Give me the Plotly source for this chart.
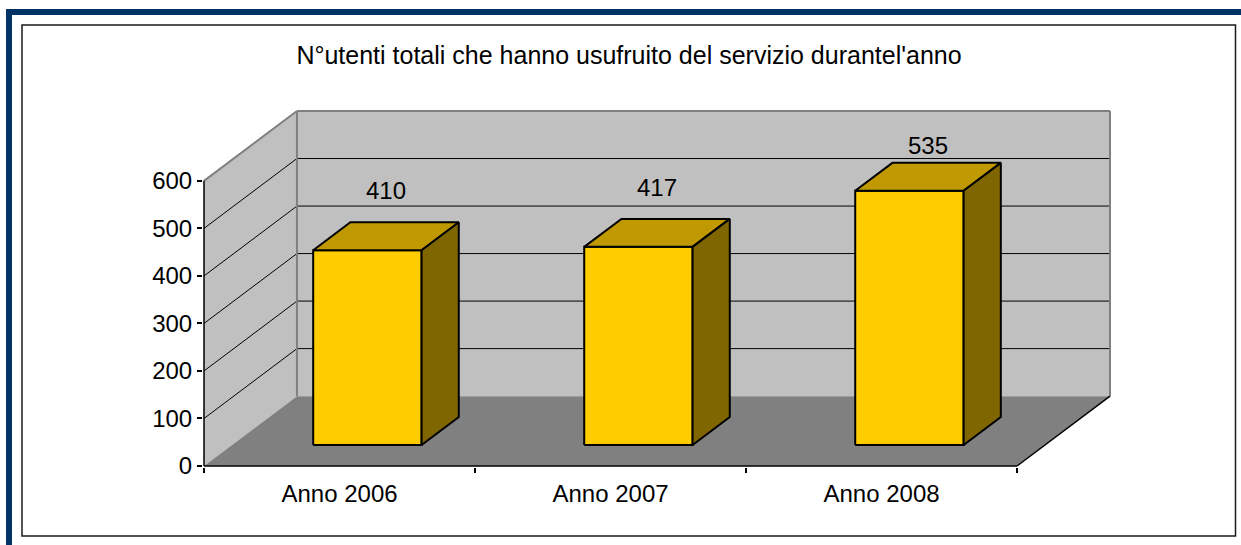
import plotly.graph_objects as go

# ---- data ----
categories = ["Anno 2006", "Anno 2007", "Anno 2008"]
values = [410, 417, 535]
y_ticks = [0, 100, 200, 300, 400, 500, 600]
title_text = "N°utenti totali che hanno usufruito del servizio durantel'anno"

# ---- geometry / style ----
W, H = 1241, 545
ML, MR, MT, MB = 203, 130, 110, 78
DX, DY = 0.343, 147.0          # depth projection (category units, value units)
VMAX = y_ticks[-1]
NCAT = len(categories)
U0, U1 = 0.30, 0.70            # bar extent inside category
D0, D1 = 0.30, 0.70            # bar extent in depth
LABEL_RISE, LABEL_CAP = 170, 675
FONT = "Liberation Sans, Arial, Helvetica, sans-serif"

WALL = "#C0C0C0"
FLOOR = "#808080"
EDGE = "#808080"
FRONT = "#FFCC00"
TOP = "#C09900"
SIDE = "#806600"

x_pad = 1.0 / 271
y_pad = 2.1


def P(u, v, d):
    return u + d * DX, v + d * DY


def poly(pts, fill, lc="rgba(0,0,0,0)", lw=0):
    xy = [P(*p) for p in pts]
    xs = [a for a, _ in xy] + [xy[0][0]]
    ys = [b for _, b in xy] + [xy[0][1]]
    return go.Scatter(x=xs, y=ys, mode="lines", fill="toself", fillcolor=fill,
                      line=dict(color=lc, width=lw), hoverinfo="skip", showlegend=False)


def seg(p1, p2, color, width):
    a, b = P(*p1), P(*p2)
    return go.Scatter(x=[a[0], b[0]], y=[a[1], b[1]], mode="lines",
                      line=dict(color=color, width=width), hoverinfo="skip", showlegend=False)


traces = []
# walls and floor
traces.append(poly([(0, 0, 0), (0, VMAX, 0), (0, VMAX, 1), (0, 0, 1)], WALL))
traces.append(poly([(0, 0, 1), (NCAT, 0, 1), (NCAT, VMAX, 1), (0, VMAX, 1)], WALL))
traces.append(poly([(0, 0, 0), (NCAT, 0, 0), (NCAT, 0, 1), (0, 0, 1)], FLOOR))

# gridlines
for v in y_ticks[1:-1]:
    traces.append(seg((0, v, 0), (0, v, 1), "#000000", 1))
    traces.append(seg((0, v, 1), (NCAT, v, 1), "#000000", 1))

# wall edges
traces.append(seg((0, VMAX, 0), (0, VMAX, 1), EDGE, 2))
traces.append(seg((0, 0, 1), (0, VMAX, 1), EDGE, 2))
traces.append(seg((0, VMAX, 1), (NCAT, VMAX, 1), EDGE, 2))
traces.append(seg((NCAT, 0, 1), (NCAT, VMAX, 1), EDGE, 2))
traces.append(seg((NCAT, 0, 0), (NCAT, 0, 1), "#000000", 1.5))
# axes lines
traces.append(seg((0, 0, 0), (0, VMAX, 0), "#000000", 1.5))
traces.append(seg((0, 0, 0), (NCAT, 0, 0), "#000000", 1.5))

# bars
for i, v in enumerate(values):
    u0, u1 = i + U0, i + U1
    traces.append(poly([(u0, 0, D0), (u1, 0, D0), (u1, v, D0), (u0, v, D0)], FRONT, "#000000", 2))
    traces.append(poly([(u0, v, D0), (u1, v, D0), (u1, v, D1), (u0, v, D1)], TOP, "#000000", 2))
    traces.append(poly([(u1, 0, D0), (u1, 0, D1), (u1, v, D1), (u1, v, D0)], SIDE, "#000000", 2))

fig = go.Figure(traces)

# data labels
for i, v in enumerate(values):
    lx, _ = P(i + 0.5, v, 0.5)
    fig.add_annotation(x=lx, y=min(v + LABEL_RISE, LABEL_CAP), text=str(v), showarrow=False,
                       xanchor="center", yanchor="middle",
                       font=dict(family=FONT, size=24, color="#000000"))

# frame decorations (page pixel -> paper)
PW = W - ML - MR
PH = H - MT - MB


def px(xp):
    return (xp - ML) / PW


def py(yp):
    return (H - MB - yp) / PH


fig.add_shape(type="rect", xref="paper", yref="paper", x0=px(6), x1=px(W + 20), y0=py(9), y1=py(15),
              fillcolor="#003366", line=dict(width=0))
fig.add_shape(type="rect", xref="paper", yref="paper", x0=px(6), x1=px(12), y0=py(9), y1=py(H + 20),
              fillcolor="#003366", line=dict(width=0))
fig.add_shape(type="rect", xref="paper", yref="paper", x0=px(22), x1=px(1235.5), y0=py(25), y1=py(536),
              fillcolor="rgba(0,0,0,0)", line=dict(color="#1a1a1a", width=1.5))

fig.update_layout(
    width=W, height=H,
    margin=dict(l=ML, r=MR, t=MT, b=MB, pad=0),
    paper_bgcolor="#FFFFFF", plot_bgcolor="#FFFFFF",
    showlegend=False,
    title=dict(text=title_text, x=629 / W, xref="container", xanchor="center",
               y=1 - 55.5 / H, yref="container", yanchor="middle",
               font=dict(family=FONT, size=25, color="#000000")),
    font=dict(family=FONT, size=24, color="#000000"),
    xaxis=dict(range=[-x_pad, NCAT + DX + x_pad], showgrid=False, zeroline=False, showline=False,
               tickmode="array", tickvals=[i + 0.5 for i in range(NCAT)], ticktext=categories,
               ticks="", ticklabelstandoff=10,
               minor=dict(tickmode="array", tickvals=list(range(NCAT + 1)), ticks="outside",
                          ticklen=5, tickcolor="#000000", tickwidth=1.5, showgrid=False),
               tickfont=dict(family=FONT, size=24, color="#000000"), fixedrange=True),
    yaxis=dict(range=[-y_pad, VMAX + DY + y_pad], showgrid=False, zeroline=False, showline=False,
               tickmode="array", tickvals=y_ticks, ticktext=[str(t) for t in y_ticks],
               ticks="outside", ticklen=5, tickcolor="#000000", tickwidth=1.5,
               tickfont=dict(family=FONT, size=24, color="#000000"), fixedrange=True),
)

fig.write_html("out.html", config={"displayModeBar": False},
               post_script="document.body.style.margin='0';document.body.style.overflow='hidden';")
